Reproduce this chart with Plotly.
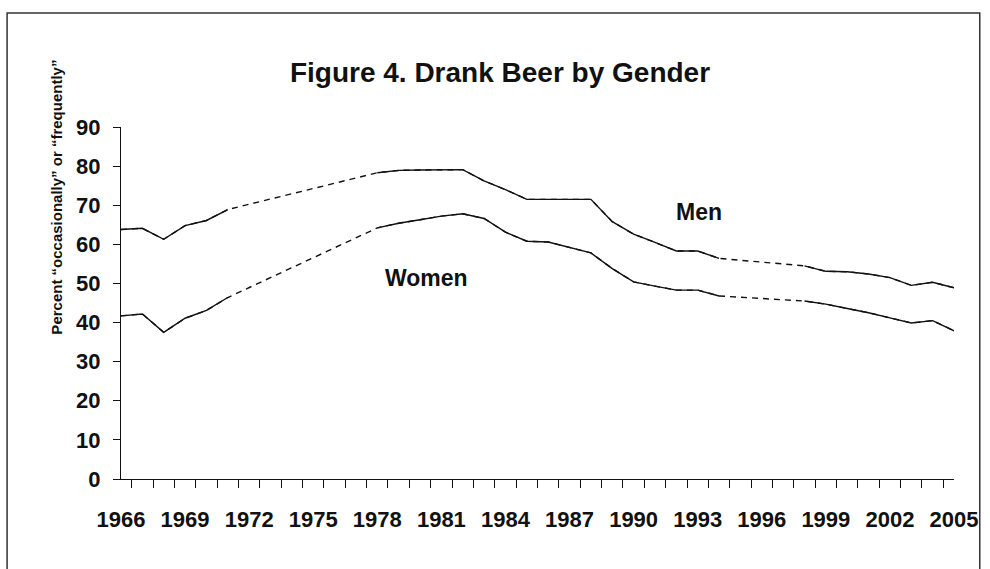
import plotly.graph_objects as go

# Survey years (category axis, one slot per year)
years = list(range(1966, 2006))

# Percent who drank beer "occasionally" or "frequently"; None = not asked that year
men = [63.8, 64.1, 61.3, 64.8, 66.1, 68.9,
       None, None, None, None, None, None,
       78.3, 78.9, 79.0, 79.0, 79.1, 76.2, 74.0, 71.5, 71.5, 71.5, 71.5,
       65.8, 62.6, 60.5, 58.3, 58.3, 56.4,
       None, None, None,
       54.5, 53.1, 53.0, 52.4, 51.5, 49.5, 50.3, 48.9]
women = [41.7, 42.2, 37.5, 41.1, 43.1, 46.4,
         None, None, None, None, None, None,
         64.2, 65.4, 66.3, 67.2, 67.8, 66.6, 63.1, 60.8, 60.6, 59.2, 57.8,
         53.8, 50.4, 49.3, 48.3, 48.3, 46.8,
         None, None, None,
         45.5, 44.7, 43.6, 42.5, 41.2, 39.9, 40.5, 37.9]

y_ticks = [0, 10, 20, 30, 40, 50, 60, 70, 80, 90]

TITLE = "Figure 4. Drank Beer by Gender"
Y_TITLE = "Percent \u201coccasionally\u201d or \u201cfrequently\u201d"
FONT = "Liberation Sans, Arial, Helvetica, sans-serif"
INK = "#111111"

W, H = 990, 569
L, R, T, B = 121, 28, 127, 90
PW, PH = W - L - R, H - T - B


def px_x(x):
    return (x - L) / PW


def px_y(y):
    return (H - B - y) / PH


fig = go.Figure()

# dashed bridges across the years with no data, solid lines on top
for vals in (men, women):
    fig.add_trace(go.Scatter(x=years, y=vals, mode="lines", connectgaps=True,
                             line=dict(color=INK, width=1.4, dash="6px,5px"),
                             hoverinfo="skip"))
for name, vals in (("Men", men), ("Women", women)):
    fig.add_trace(go.Scatter(x=years, y=vals, mode="lines", name=name, connectgaps=False,
                             line=dict(color=INK, width=1.4)))

fig.add_annotation(x=27.05, y=68.2, xref="x", yref="y", text="Men", showarrow=False,
                   font=dict(family=FONT, size=23, color=INK, weight="bold"))
fig.add_annotation(x=14.3, y=51.3, xref="x", yref="y", text="Women", showarrow=False,
                   font=dict(family=FONT, size=23, color=INK, weight="bold"))

# rotated y-axis title
fig.add_annotation(x=px_x(55), y=px_y(197), xref="paper", yref="paper", text=Y_TITLE,
                   textangle=-90, showarrow=False, xanchor="center", yanchor="middle",
                   font=dict(family=FONT, size=15, color=INK, weight="bold"))

# frame round the chart
fig.add_shape(type="rect", xref="paper", yref="paper",
              x0=px_x(6), x1=px_x(988), y0=px_y(580), y1=px_y(13),
              line=dict(color="#333333", width=1.5), layer="below")

fig.update_layout(
    width=W, height=H,
    margin=dict(l=L, r=R, t=T, b=B),
    paper_bgcolor="white", plot_bgcolor="white",
    showlegend=False,
    title=dict(text=TITLE, x=500 / W, xanchor="center", xref="container",
               y=1 - 72 / H, yanchor="middle", yref="container",
               font=dict(family=FONT, size=28, color=INK, weight="bold")),
)
fig.update_xaxes(type="category", tickson="boundaries", dtick=1, ticklabelstep=3,
                 tickangle=0, ticks="outside", ticklen=8, tickcolor=INK, tickwidth=1.2,
                 showline=True, linecolor=INK, linewidth=1.4, showgrid=False,
                 ticklabelstandoff=20,
                 tickfont=dict(family=FONT, size=22, color=INK, weight="bold"))
fig.update_yaxes(range=[0, 90], tickvals=y_ticks, ticks="outside", ticklen=7,
                 tickcolor=INK, tickwidth=1.2, showline=True, linecolor=INK, linewidth=1.4,
                 showgrid=False, zeroline=False, ticklabelstandoff=8,
                 tickfont=dict(family=FONT, size=22, color=INK, weight="bold"))

# page body margin would push the 990x569 figure off the window
fig.write_html("out.html", config={"displayModeBar": False},
               post_script="document.body.style.margin='0';")
